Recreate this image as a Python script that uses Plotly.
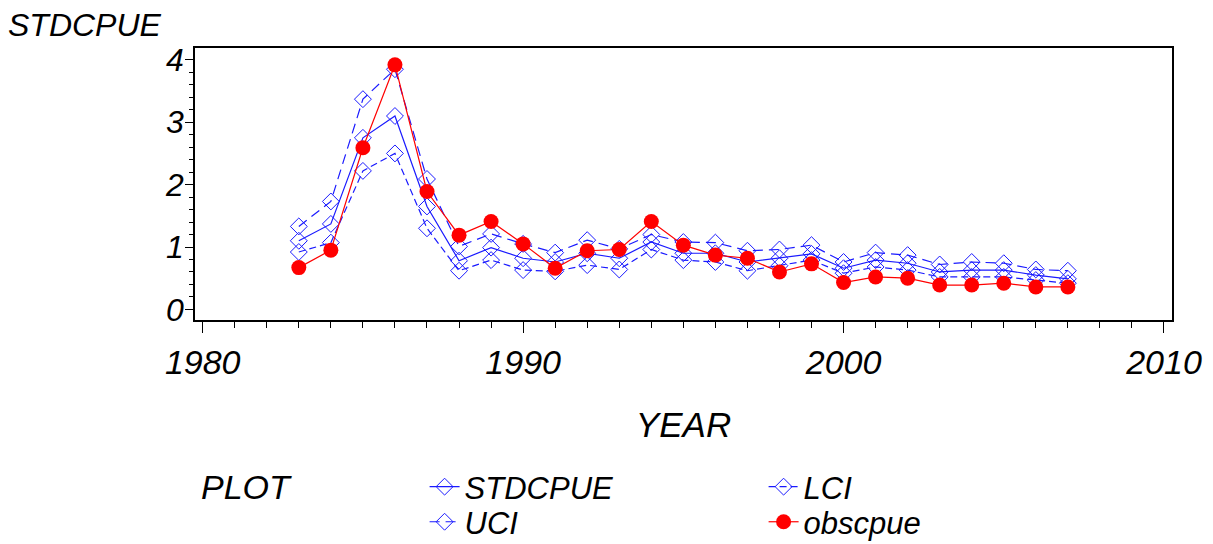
import plotly.graph_objects as go

years = list(range(1983, 2008))
obscpue = [0.67, 0.95, 2.59, 3.92, 1.89, 1.19, 1.41, 1.05, 0.66, 0.94, 0.96, 1.41, 1.03,
           0.87, 0.82, 0.60, 0.73, 0.43, 0.52, 0.50, 0.39, 0.39, 0.42, 0.36, 0.36]
stdcpue = [1.10, 1.37, 2.75, 3.10, 1.65, 0.78, 0.99, 0.82, 0.76, 0.90, 0.82, 1.08, 0.90,
           0.90, 0.76, 0.82, 0.89, 0.66, 0.79, 0.74, 0.60, 0.63, 0.63, 0.55, 0.49]
uci = [1.33, 1.73, 3.37, 3.85, 2.09, 1.01, 1.21, 1.05, 0.91, 1.11, 0.97, 1.20, 1.08,
       1.07, 0.94, 0.96, 1.03, 0.76, 0.91, 0.87, 0.72, 0.76, 0.74, 0.64, 0.62]
lci = [0.92, 1.07, 2.22, 2.50, 1.30, 0.62, 0.79, 0.63, 0.61, 0.71, 0.64, 0.96, 0.79,
       0.76, 0.62, 0.70, 0.79, 0.58, 0.68, 0.63, 0.52, 0.52, 0.52, 0.47, 0.42]
x_ticks = [1980, 1990, 2000, 2010]
y_ticks = [0, 1, 2, 3, 4]

BLUE = "#1a1aff"
FONT = "Liberation Sans"
IT = dict(family=FONT, style="italic", color="black")

fig = go.Figure()
diamond = dict(symbol="diamond-open", size=13, color=BLUE, line=dict(width=1, color=BLUE))
fig.add_trace(go.Scatter(x=years, y=stdcpue, name="STDCPUE", mode="lines+markers",
                         line=dict(color=BLUE, width=1.2), marker=diamond, legend="legend"))
fig.add_trace(go.Scatter(x=years, y=lci, name="LCI", mode="lines+markers",
                         line=dict(color=BLUE, width=1.2, dash="7px,4px"), marker=diamond,
                         legend="legend"))
fig.add_trace(go.Scatter(x=years, y=uci, name="UCI", mode="lines+markers",
                         line=dict(color=BLUE, width=1.2, dash="10px,6px"), marker=diamond,
                         legend="legend2"))
fig.add_trace(go.Scatter(x=years, y=obscpue, name="obscpue", mode="lines+markers",
                         line=dict(color="red", width=1.2),
                         marker=dict(symbol="circle", size=15, color="red"), legend="legend2"))

leg_common = dict(orientation="h", xanchor="left", yanchor="middle",
                  font=dict(size=31, **IT), entrywidth=294, entrywidthmode="pixels",
                  itemwidth=30, bgcolor="rgba(0,0,0,0)")

# page body has an 8px margin, so the figure is 8px smaller and offset
fig.update_layout(
    width=1205, height=536,
    margin=dict(l=187, r=41, t=40, b=224, autoexpand=False),
    paper_bgcolor="white", plot_bgcolor="white",
    font=dict(size=30, **IT),
    showlegend=True,
    legend=dict(x=0.235, y=-0.614, **leg_common),
    legend2=dict(x=0.235, y=-0.743, **leg_common),
    annotations=[
        dict(text="STDCPUE", xref="paper", yref="paper", x=-0.193, y=1.085,
             xanchor="left", yanchor="middle", showarrow=False, font=dict(size=32, **IT)),
        dict(text="PLOT", xref="paper", yref="paper", x=0.004, y=-0.614,
             xanchor="left", yanchor="middle", showarrow=False, font=dict(size=34, **IT)),
    ],
)

fig.update_xaxes(
    range=[1979.76, 2010.25], tickvals=x_ticks, ticks="outside", ticklen=11, tickwidth=1,
    tickcolor="black", showline=True, linecolor="black", linewidth=1.5, mirror=True,
    showgrid=False, zeroline=False, ticklabelstandoff=0,
    tickfont=dict(size=34, **IT),
    minor=dict(dtick=1, ticks="outside", ticklen=6, tickcolor="black", showgrid=False),
    title=dict(text="YEAR", font=dict(size=35, **IT), standoff=33),
)
fig.update_yaxes(
    range=[-0.17, 4.19], tickvals=y_ticks, ticks="outside", ticklen=8, tickwidth=1,
    tickcolor="black", showline=True, linecolor="black", linewidth=1.5, mirror=True,
    showgrid=False, zeroline=False, ticklabelstandoff=-5,
    tickfont=dict(size=32, **IT),
    minor=dict(dtick=0.2, ticks="outside", ticklen=4, tickcolor="black", showgrid=False),
)

fig.write_html("out.html")
